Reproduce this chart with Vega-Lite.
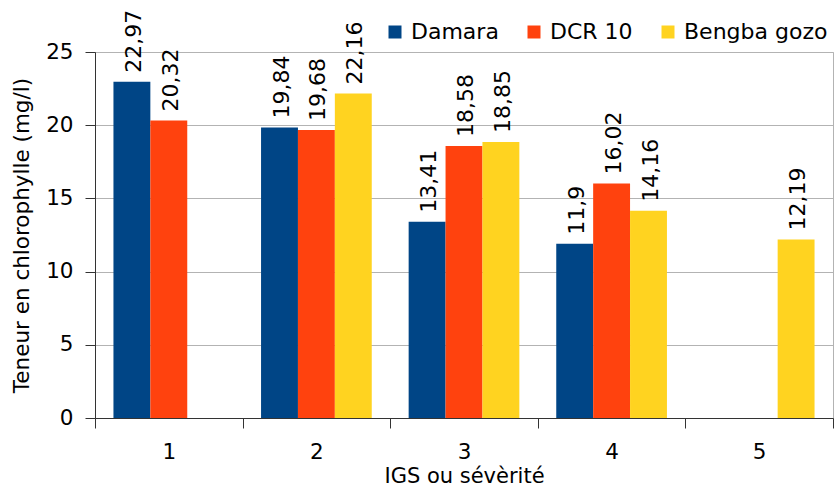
{
  "$schema": "https://vega.github.io/schema/vega-lite/v6.json",
  "autosize": {"type": "none"},
  "width": 738,
  "height": 366,
  "padding": {"left": 95, "top": 52, "right": 2, "bottom": 68},
  "background": "white",
  "config": {
    "font": "DejaVu Sans",
    "view": {"stroke": "#b3b3b3", "strokeWidth": 1},
    "axis": {"labelFont": "DejaVu Sans", "titleFont": "DejaVu Sans", "labelFontSize": 21.5, "titleFontSize": 21.5, "titleFontWeight": "normal", "labelColor": "#000", "titleColor": "#000", "domainColor": "#333", "tickColor": "#333", "tickSize": 10}
  },
  "data": {
    "values": [
      {"igs": "1", "var": "Damara", "v": 22.97, "lab": "22,97"},
      {"igs": "1", "var": "DCR 10", "v": 20.32, "lab": "20,32"},
      {"igs": "2", "var": "Damara", "v": 19.84, "lab": "19,84"},
      {"igs": "2", "var": "DCR 10", "v": 19.68, "lab": "19,68"},
      {"igs": "2", "var": "Bengba gozo", "v": 22.16, "lab": "22,16"},
      {"igs": "3", "var": "Damara", "v": 13.41, "lab": "13,41"},
      {"igs": "3", "var": "DCR 10", "v": 18.58, "lab": "18,58"},
      {"igs": "3", "var": "Bengba gozo", "v": 18.85, "lab": "18,85"},
      {"igs": "4", "var": "Damara", "v": 11.9, "lab": "11,9"},
      {"igs": "4", "var": "DCR 10", "v": 16.02, "lab": "16,02"},
      {"igs": "4", "var": "Bengba gozo", "v": 14.16, "lab": "14,16"},
      {"igs": "5", "var": "Bengba gozo", "v": 12.19, "lab": "12,19"}
    ]
  },
  "encoding": {
    "x": {
      "field": "igs", "type": "nominal",
      "scale": {"domain": ["1", "2", "3", "4", "5"], "paddingInner": 0, "paddingOuter": 0},
      "axis": {"title": "IGS ou sévèrité", "titleFontSize": 21, "labelAngle": 0, "tickBand": "extent", "labelPadding": 13, "titlePadding": 3, "grid": false}
    },
    "xOffset": {
      "field": "var", "type": "nominal",
      "scale": {"domain": ["Damara", "DCR 10", "Bengba gozo"], "paddingInner": 0, "paddingOuter": 0.5}
    },
    "y": {
      "field": "v", "type": "quantitative",
      "scale": {"domain": [0, 25], "nice": false},
      "axis": {"title": "Teneur en chlorophylle (mg/l)", "values": [0, 5, 10, 15, 20, 25], "grid": true, "gridColor": "#b3b3b3", "labelPadding": 12, "titlePadding": 12}
    }
  },
  "layer": [
    {
      "mark": {"type": "bar"},
      "encoding": {
        "color": {
          "field": "var", "type": "nominal",
          "scale": {"domain": ["Damara", "DCR 10", "Bengba gozo"], "range": ["#004586", "#ff420e", "#ffd320"]},
          "legend": {"title": null, "orient": "none", "direction": "horizontal", "legendX": 289, "legendY": -31, "labelFontSize": 22, "labelFont": "DejaVu Sans", "labelColor": "#000", "symbolType": "square", "symbolSize": 169, "symbolStrokeWidth": 0, "labelOffset": 5, "columnPadding": 24}
        }
      }
    },
    {
      "mark": {"type": "text", "angle": 270, "align": "left", "baseline": "middle", "fontSize": 22, "dx": 9, "dy": 2, "color": "#000"},
      "encoding": {"text": {"field": "lab"}}
    }
  ]
}
